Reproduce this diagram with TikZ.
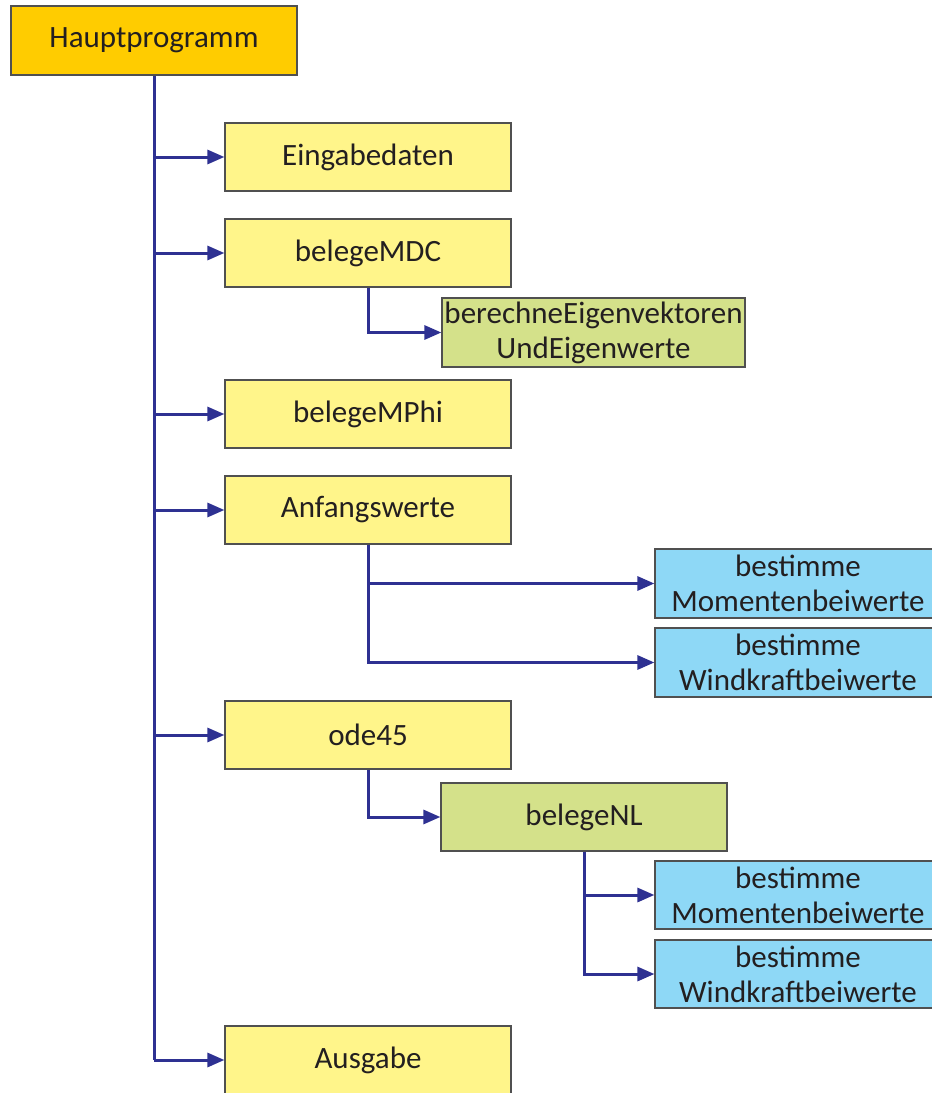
\documentclass[tikz,border=0pt]{standalone}
\usepackage{fontspec}
\setmainfont{Carlito}
\usetikzlibrary{arrows.meta}
\definecolor{gold}{HTML}{FFCC00}
\definecolor{lyellow}{HTML}{FFF58A}
\definecolor{lgreen}{HTML}{D4E18A}
\definecolor{lblue}{HTML}{8ED8F6}
\definecolor{navy}{HTML}{2E3192}
\definecolor{bordergray}{HTML}{505050}
\definecolor{txt}{HTML}{231F20}
\tikzset{
  box/.style={draw=bordergray, line width=1.2pt, rectangle, minimum width=286pt, minimum height=68pt,
    inner sep=0pt, align=center, text=txt, font=\fontsize{31}{35}\selectfont},
  ybox/.style={box, fill=lyellow},
  gbox/.style={box, fill=lgreen},
  bbox/.style={box, fill=lblue, minimum height=69pt},
  conn/.style={draw=navy, line width=3pt},
  arr/.style={conn, -{Triangle[length=17pt,width=14pt]}}
}
\begin{document}
\begin{tikzpicture}[x=1pt,y=-1pt]
\useasboundingbox (0,0) rectangle (932,1093);
\clip (0,0) rectangle (932,1093);
\node[box, fill=gold, minimum height=69pt] (hp) at (154,40.5) {Hauptprogramm};
\node[ybox] (ein) at (368,157) {Eingabedaten};
\node[ybox] (mdc) at (368,253) {belegeMDC};
\node[gbox, minimum width=303pt, minimum height=69pt] (ber) at (593.5,332.5) {berechneEigenvektoren\\UndEigenwerte};
\node[ybox] (mphi) at (368,414) {belegeMPhi};
\node[ybox] (anf) at (368,510) {Anfangswerte};
\node[bbox] (b1) at (798,583.5) {bestimme\\Momentenbeiwerte};
\node[bbox] (b2) at (798,662.5) {bestimme\\Windkraftbeiwerte};
\node[ybox] (ode) at (368,735) {ode45};
\node[gbox] (nl) at (584,817) {belegeNL};
\node[bbox, minimum height=68pt] (b3) at (798,895) {bestimme\\Momentenbeiwerte};
\node[bbox, minimum height=68pt] (b4) at (798,974) {bestimme\\Windkraftbeiwerte};
\node[ybox] (aus) at (368,1060) {Ausgabe};
% trunk
\draw[conn] (hp.south) -- (hp.south |- aus.west);
\foreach \n in {ein,mdc,mphi,anf,ode,aus}
  \draw[arr] (hp.south |- \n.west) -- (\n.west);
\draw[arr] (mdc.south) |- (ber.west);
\draw[arr] (anf.south) |- (b1.west);
\draw[arr] (anf.south) |- (b2.west);
\draw[arr] (ode.south) |- (nl.west);
\draw[arr] (nl.south) |- (b3.west);
\draw[arr] (nl.south) |- (b4.west);
\end{tikzpicture}
\end{document}
